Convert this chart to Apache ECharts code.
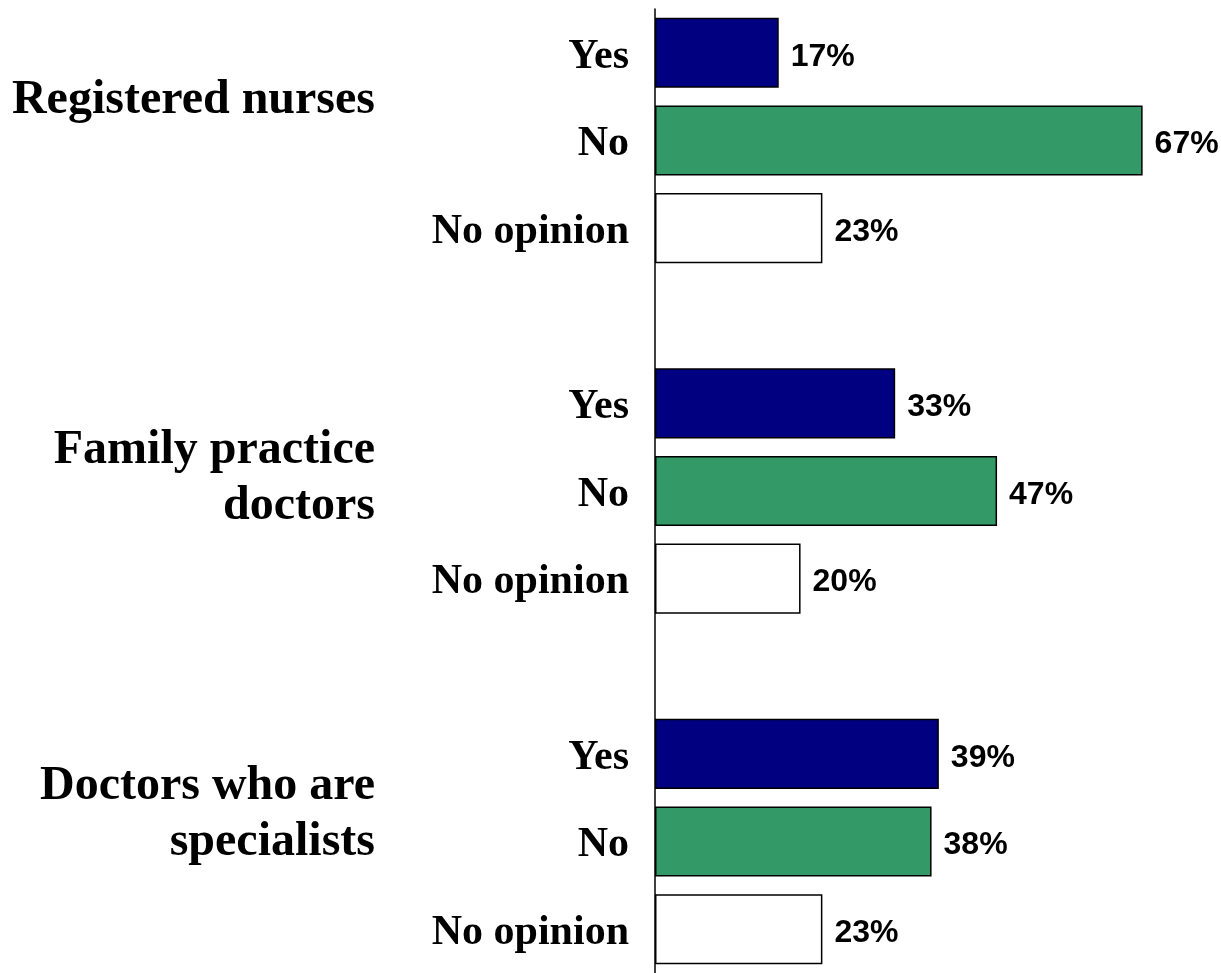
<!DOCTYPE html>
<html lang="en">
<head>
    <meta charset="UTF-8">
    <title>Survey by profession</title>
    <script src="https://cdn.jsdelivr.net/npm/echarts@6/dist/echarts.min.js"></script>
    <style>
        body { margin: 0; background: #ffffff; }
        #main { width: 1221px; height: 973px; }
    </style>
</head>
<body>
<div id="main"></div>
<script>
    // 数据 (空字符串 = 组之间的空行)
    var answers = ['Yes', 'No', 'No opinion', '', 'Yes', 'No', 'No opinion', '', 'Yes', 'No', 'No opinion'];
    var values = [17, 67, 23, '-', 33, 47, 20, '-', 39, 38, 23];
    var groups = ['Registered nurses', 'Family practice\ndoctors', 'Doctors who are\nspecialists'];
    var answerColors = { 'Yes': '#000080', 'No': '#339966', 'No opinion': '#ffffff' };

    var chart = echarts.init(document.getElementById('main'));

    var seriesData = values.map(function (v, i) {
        return {
            value: v,
            itemStyle: { color: answerColors[answers[i]] || '#ffffff' }
        };
    });

    // 左侧分组标题的位置
    var groupY = [101, 479, 815];

    var option = {
        backgroundColor: '#ffffff',
        animation: false,
        grid: { left: 655, top: 9, width: 508, height: 966 },
        xAxis: {
            type: 'value',
            min: 0,
            max: 69.8,
            show: false
        },
        yAxis: {
            type: 'category',
            inverse: true,
            data: answers,
            axisLine: { show: true, lineStyle: { color: '#000', width: 1.5 } },
            axisTick: { show: false },
            axisLabel: {
                margin: 26,
                formatter: function (v) { return v ? '{a|' + v + '}' : ''; },
                rich: {
                    a: {
                        color: '#000',
                        fontFamily: '"Liberation Serif", "Times New Roman", serif',
                        fontWeight: 'bold',
                        fontSize: 42,
                        padding: [8, 0, 0, 0]
                    }
                }
            }
        },
        series: [{
            type: 'bar',
            data: seriesData,
            barWidth: '80%',
            itemStyle: { borderColor: '#000', borderWidth: 1.5 },
            label: {
                show: true,
                position: 'right',
                distance: 12,
                offset: [0, 4],
                color: '#000',
                fontFamily: '"Liberation Sans", Arial, sans-serif',
                fontWeight: 'bold',
                fontSize: 32,
                formatter: '{c}%'
            }
        }],
        graphic: groups.map(function (g, i) {
            return {
                type: 'text',
                x: 375,
                y: groupY[i],
                style: {
                    text: g,
                    align: 'right',
                    verticalAlign: 'middle',
                    fill: '#000',
                    font: 'bold 48px "Liberation Serif", "Times New Roman", serif',
                    lineHeight: 56
                }
            };
        })
    };

    chart.setOption(option);
</script>
</body>
</html>
